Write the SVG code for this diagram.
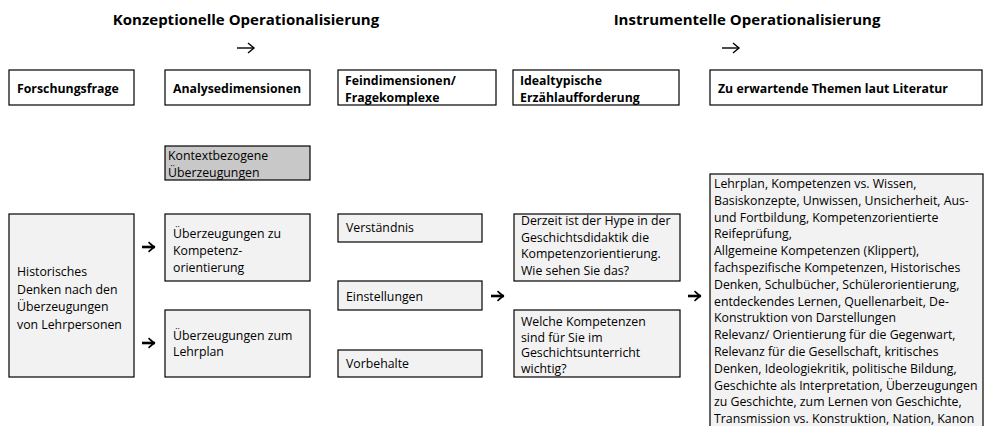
<svg xmlns="http://www.w3.org/2000/svg" width="987" height="426" viewBox="0 0 987 426">
<defs>
<style>
text{font-family:"Open Sans","Noto Sans",sans-serif;fill:#000}
.t{font-size:12.3px}
.h{font-size:12.3px;font-weight:bold}
.title{font-size:15px;font-weight:bold;text-anchor:middle}
.hb{fill:#fff;stroke:#000;stroke-width:1.2}
.b{fill:#f2f2f2;stroke:#000;stroke-width:1.2}
.g{fill:#c8c8c8;stroke:#000;stroke-width:1.2}
.thin{stroke:#000;stroke-width:1.4;fill:none}
.bold{stroke:#000;stroke-width:2.6;fill:none}
</style>
<marker id="open" markerWidth="10" markerHeight="12" refX="7" refY="6" orient="auto" markerUnits="userSpaceOnUse">
<path d="M1,1 L7,6 L1,11" fill="none" stroke="#000" stroke-width="1.4"/>
</marker>
<marker id="solid" markerWidth="10" markerHeight="12" refX="8" refY="6" orient="auto" markerUnits="userSpaceOnUse">
<path d="M2,0.5 L8.5,6 L2,11.5 L1,10.2 L5.5,6 L1,1.8 Z" fill="#000"/>
</marker>
</defs>

<g id="titles">
<text class="title" x="246" y="25">Konzeptionelle Operationalisierung</text>
<text class="title" x="747" y="25">Instrumentelle Operationalisierung</text>
</g>

<g id="head-forschungsfrage"><rect class="hb" x="9" y="70" width="125" height="35"/><text class="h" x="17" y="93">Forschungsfrage</text></g>
<g id="head-analysedimensionen"><rect class="hb" x="165" y="70" width="145" height="35"/><text class="h" x="173" y="93">Analysedimensionen</text></g>
<g id="head-feindimensionen"><rect class="hb" x="338" y="70" width="158" height="35"/><text class="h" x="345" y="85">Feindimensionen/</text><text class="h" x="345" y="101.5">Fragekomplexe</text></g>
<g id="head-idealtypische"><rect class="hb" x="513" y="70" width="166" height="35"/><text class="h" x="520" y="85">Idealtypische</text><text class="h" x="520" y="101.5">Erzählaufforderung</text></g>
<g id="head-themen"><rect class="hb" x="710" y="70" width="272" height="35"/><text class="h" x="718" y="93">Zu erwartende Themen laut Literatur</text></g>

<g id="forschungsfrage"><rect class="b" x="9" y="214" width="125" height="163"/>
<text class="t" x="17" y="276">Historisches</text><text class="t" x="17" y="293.5">Denken nach den</text><text class="t" x="17" y="311">Überzeugungen</text><text class="t" x="17" y="328.5">von Lehrpersonen</text></g>

<g id="kontext"><rect class="g" x="165" y="146" width="145" height="34"/>
<text class="t" x="168" y="160">Kontextbezogene</text><text class="t" x="168" y="177">Überzeugungen</text></g>

<g id="kompetenz"><rect class="b" x="165" y="214" width="145" height="67"/>
<text class="t" x="173" y="238">Überzeugungen zu</text><text class="t" x="173" y="255">Kompetenz-</text><text class="t" x="173" y="272">orientierung</text></g>

<g id="lehrplan"><rect class="b" x="165" y="310" width="145" height="67"/>
<text class="t" x="173" y="340">Überzeugungen zum</text><text class="t" x="173" y="356">Lehrplan</text></g>

<g id="verstaendnis"><rect class="b" x="338" y="214" width="144" height="28"/><text class="t" x="346" y="232">Verständnis</text></g>
<g id="einstellungen"><rect class="b" x="338" y="281" width="144" height="29"/><text class="t" x="346" y="301">Einstellungen</text></g>
<g id="vorbehalte"><rect class="b" x="338" y="350" width="144" height="27"/><text class="t" x="346" y="368">Vorbehalte</text></g>

<g id="frage1"><rect class="b" x="514" y="214" width="166" height="67"/>
<text class="t" x="521" y="225">Derzeit ist der Hype in der</text><text class="t" x="521" y="241.5">Geschichtsdidaktik die</text><text class="t" x="521" y="258">Kompetenzorientierung.</text><text class="t" x="521" y="274.5">Wie sehen Sie das?</text></g>

<g id="frage2"><rect class="b" x="514" y="310" width="166" height="67"/>
<text class="t" x="521" y="326">Welche Kompetenzen</text><text class="t" x="521" y="341.5">sind für Sie im</text><text class="t" x="521" y="357">Geschichtsunterricht</text><text class="t" x="521" y="372.5">wichtig?</text></g>

<g id="themen"><rect class="b" x="710" y="174" width="273" height="270"/>
<text class="t" x="714" y="188">Lehrplan, Kompetenzen vs. Wissen,</text>
<text class="t" x="714" y="204.8">Basiskonzepte, Unwissen, Unsicherheit, Aus-</text>
<text class="t" x="714" y="221.6">und Fortbildung, Kompetenzorientierte</text>
<text class="t" x="714" y="238.4">Reifeprüfung,</text>
<text class="t" x="714" y="255.2">Allgemeine Kompetenzen (Klippert),</text>
<text class="t" x="714" y="272">fachspezifische Kompetenzen, Historisches</text>
<text class="t" x="714" y="288.8">Denken, Schulbücher, Schülerorientierung,</text>
<text class="t" x="714" y="305.6">entdeckendes Lernen, Quellenarbeit, De-</text>
<text class="t" x="714" y="322.4">Konstruktion von Darstellungen</text>
<text class="t" x="714" y="339.2">Relevanz/ Orientierung für die Gegenwart,</text>
<text class="t" x="714" y="356">Relevanz für die Gesellschaft, kritisches</text>
<text class="t" x="714" y="372.8">Denken, Ideologiekritik, politische Bildung,</text>
<text class="t" x="714" y="389.6">Geschichte als Interpretation, Überzeugungen</text>
<text class="t" x="714" y="406.4">zu Geschichte, zum Lernen von Geschichte,</text>
<text class="t" x="714" y="423.2">Transmission vs. Konstruktion, Nation, Kanon</text>
</g>

<g id="connectors">
<path class="thin" d="M237,48 H254" marker-end="url(#open)"/>
<path class="thin" d="M722,48 H739" marker-end="url(#open)"/>
<path class="bold" d="M142,247 H155" marker-end="url(#solid)"/>
<path class="bold" d="M142,343 H155" marker-end="url(#solid)"/>
<path class="bold" d="M491,296 H504" marker-end="url(#solid)"/>
<path class="bold" d="M688,296 H701" marker-end="url(#solid)"/>
</g>
</svg>
